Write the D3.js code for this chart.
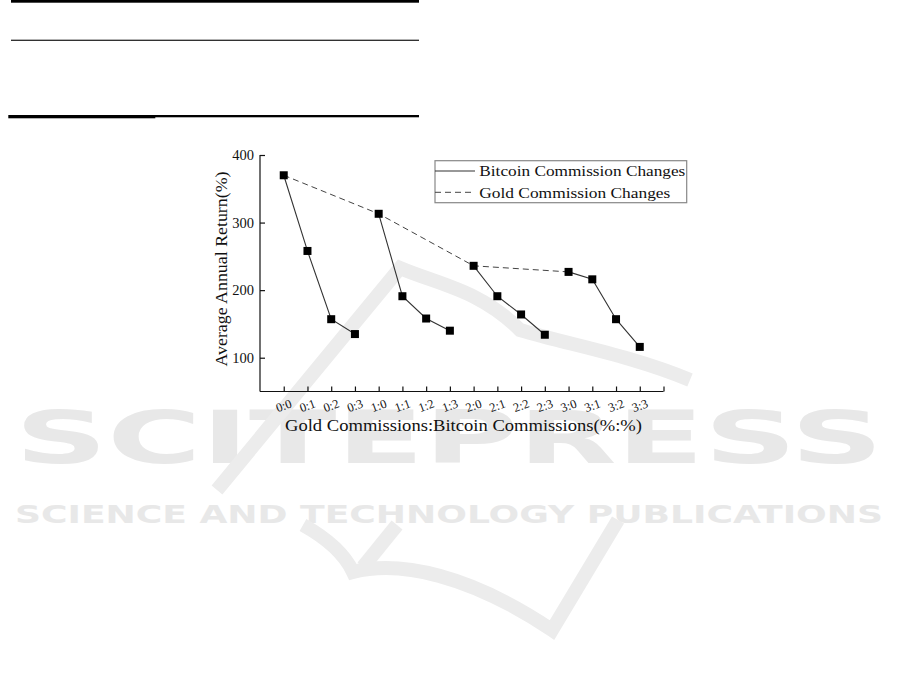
<!DOCTYPE html>
<html>
<head>
<meta charset="utf-8">
<script src="https://cdn.jsdelivr.net/npm/d3@7/dist/d3.min.js"></script>
<style>
html,body{margin:0;padding:0;background:#fff;}
svg{display:block;}
</style>
</head>
<body>
<svg id="chart" width="901" height="694"></svg>
<script>
// ---- data ----
const categories = ["0:0","0:1","0:2","0:3","1:0","1:1","1:2","1:3","2:0","2:1","2:2","2:3","3:0","3:1","3:2","3:3"];
const annualReturn = [370, 258, 157, 135, 313, 191, 158, 140, 236, 191, 164, 134, 227, 216, 157, 116];
// Bitcoin commission changes: one segment per gold commission level
const bitcoinGroups = [[0,1,2,3],[4,5,6,7],[8,9,10,11],[12,13,14,15]];
// Gold commission changes: points where bitcoin commission = 0
const goldIdx = [0, 4, 8, 12];
const yTicks = [100, 200, 300, 400];
const legendLabels = ["Bitcoin Commission Changes", "Gold Commission Changes"];
const xTitle = "Gold Commissions:Bitcoin Commissions(%:%)";
const yTitle = "Average Annual Return(%)";

const svg = d3.select("#chart");
const serif = "'Liberation Serif','Times New Roman',serif";

// ---- watermark (background) ----
const wm = svg.append("g").attr("fill", "none").attr("stroke", "#ececec").attr("stroke-width", 14).attr("stroke-linecap", "butt");
wm.append("text").text("SCITEPRESS")
  .attr("x", 15).attr("y", 463).attr("fill", "#e8e8e8").attr("stroke", "none")
  .attr("font-family", "'DejaVu Sans',sans-serif").attr("font-weight", "bold").attr("font-size", 73)
  .attr("textLength", 868).attr("lengthAdjust", "spacingAndGlyphs");
wm.append("text").text("SCIENCE AND TECHNOLOGY PUBLICATIONS")
  .attr("x", 15).attr("y", 523).attr("fill", "#e8e8e8").attr("stroke", "none")
  .attr("font-family", "'DejaVu Sans',sans-serif").attr("font-weight", "bold").attr("font-size", 24)
  .attr("textLength", 868).attr("lengthAdjust", "spacingAndGlyphs");
wm.append("path").attr("d", "M217,490 L400,268 C440,285 480,290 520,330 C570,345 630,355 690,380");
wm.append("path").attr("d", "M303,525 C330,540 345,555 353,572 C400,560 470,575 552,630 L618,520");
wm.append("path").attr("d", "M363,567 L397,525");

// ---- page rules (top-left table) ----
const rules = svg.append("g").attr("fill", "#000");
rules.append("rect").attr("x", 11).attr("y", 0).attr("width", 408).attr("height", 2.7);
rules.append("rect").attr("x", 11).attr("y", 39.7).attr("width", 408).attr("height", 1.1);
rules.append("rect").attr("x", 8.3).attr("y", 115).attr("width", 147).attr("height", 3.3);
rules.append("rect").attr("x", 155).attr("y", 115).attr("width", 264).attr("height", 2.3);

// ---- scales ----
const x = d3.scaleLinear().domain([-1, 16]).range([260, 663.5]);
const y = d3.scaleLinear().domain([50, 400]).range([391.5, 155]);

// ---- axes ----
const xAxis = d3.axisBottom(x).tickValues(d3.range(0, 17)).tickSize(-5).tickFormat("");
const gx = svg.append("g").attr("transform", `translate(0,${y(50)})`).call(xAxis);
gx.select(".domain").attr("d", `M${x(-1)},0H${x(16)}`);

const yAxis = d3.axisLeft(y).tickValues(yTicks).tickSize(-5).tickPadding(5).tickFormat(d3.format("d"));
const gy = svg.append("g").attr("transform", `translate(${x(-1)},0)`).call(yAxis);
gy.select(".domain").attr("d", `M0,${y(400)}V${y(50)}`);
gy.selectAll(".tick text").attr("x", -6).attr("font-family", serif).attr("font-size", 14.5).attr("fill", "#111");
[gx, gy].forEach(g => { g.selectAll(".domain,.tick line").attr("stroke", "#111").attr("stroke-width", 1.2); });

// rotated category labels
svg.append("g").selectAll("text").data(categories).join("text")
  .attr("transform", (d, i) => `translate(${x(i)},405.5) rotate(-20)`)
  .attr("text-anchor", "middle").attr("dy", "0.35em")
  .attr("font-family", serif).attr("font-size", 12.5).attr("fill", "#111")
  .text(d => d);

// axis titles
svg.append("text").text(xTitle)
  .attr("x", 285).attr("y", 431)
  .attr("font-family", serif).attr("font-size", 16.5).attr("fill", "#111")
  .attr("textLength", 357).attr("lengthAdjust", "spacingAndGlyphs");
svg.append("text").text(yTitle)
  .attr("transform", "translate(227,269) rotate(-90)")
  .attr("text-anchor", "middle")
  .attr("font-family", serif).attr("font-size", 17.5).attr("fill", "#111")
  .attr("textLength", 195).attr("lengthAdjust", "spacingAndGlyphs");

// ---- lines ----
const line = d3.line().x(i => x(i)).y(i => y(annualReturn[i]));
svg.append("path").datum(goldIdx).attr("d", line)
  .attr("fill", "none").attr("stroke", "#444").attr("stroke-width", 1).attr("stroke-dasharray", "6,4");
svg.append("g").selectAll("path").data(bitcoinGroups).join("path").attr("d", line)
  .attr("fill", "none").attr("stroke", "#333").attr("stroke-width", 1.1);

// markers
const ms = 8;
svg.append("g").selectAll("rect").data(annualReturn).join("rect")
  .attr("x", (d, i) => x(i) - ms / 2).attr("y", d => y(d) - ms / 2)
  .attr("width", ms).attr("height", ms).attr("fill", "#000");

// ---- legend ----
const lg = svg.append("g");
lg.append("rect").attr("x", 435).attr("y", 160.7).attr("width", 251.7).attr("height", 42)
  .attr("fill", "#fff").attr("stroke", "#888").attr("stroke-width", 1.2);
lg.append("line").attr("x1", 435).attr("x2", 475).attr("y1", 171).attr("y2", 171)
  .attr("stroke", "#333").attr("stroke-width", 1.1);
lg.append("line").attr("x1", 435).attr("x2", 475).attr("y1", 192.3).attr("y2", 192.3)
  .attr("stroke", "#444").attr("stroke-width", 1).attr("stroke-dasharray", "6,4");
lg.append("text").text(legendLabels[0]).attr("x", 479.3).attr("y", 176)
  .attr("font-family", serif).attr("font-size", 15.5).attr("fill", "#111")
  .attr("textLength", 206).attr("lengthAdjust", "spacingAndGlyphs");
lg.append("text").text(legendLabels[1]).attr("x", 479.3).attr("y", 198)
  .attr("font-family", serif).attr("font-size", 15.5).attr("fill", "#111")
  .attr("textLength", 191).attr("lengthAdjust", "spacingAndGlyphs");
</script>
</body>
</html>
